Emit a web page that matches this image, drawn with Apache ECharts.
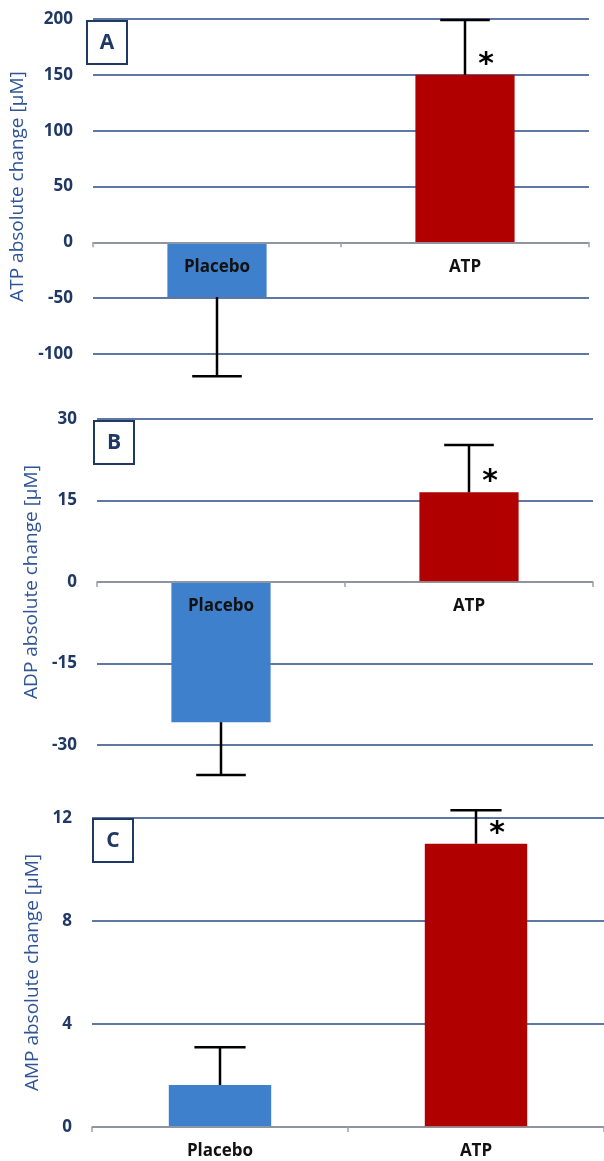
<!DOCTYPE html>
<html>
<head>
<meta charset="utf-8">
<style>
html,body{margin:0;padding:0;background:#fff;}
#chart{width:604px;height:1161px;}
</style>
<script src="https://cdn.jsdelivr.net/npm/echarts@6/dist/echarts.min.js"></script>
</head>
<body>
<div id="chart"></div>
<script>
// ---- data ----
const categories = ['Placebo', 'ATP'];
const barColors = ['#3e80cc', '#b00000'];
const significant = [0, 1];

const atpMeans = [-49, 150];
const atpErrEnds = [-120, 199];
const adpMeans = [-25.8, 16.5];
const adpErrEnds = [-35.5, 25.2];
const ampMeans = [1.63, 11.0];
const ampErrEnds = [3.1, 12.3];

const panelLetters = ['A', 'B', 'C'];
const yTitles = ['ATP absolute change [µM]', 'ADP absolute change [µM]', 'AMP absolute change [µM]'];
const yMins = [-100, -30, 0];
const yMaxs = [200, 30, 12];
const yIntervals = [50, 15, 4];

// ---- chart ----
const FONT = 'Open Sans';
const NAVY = '#1f3864';
const GRIDBLUE = '#2a4a85';

const grids = [
  {left: 93, right: 15, top: 19, height: 335},
  {left: 97, right: 11, top: 419, height: 326},
  {left: 92, right: -4, top: 818, height: 309}
];
const nameGaps = [63, 53, 48];

const meansList = [atpMeans, adpMeans, ampMeans];
const errList = [atpErrEnds, adpErrEnds, ampErrEnds];

function errRender(params, api) {
  const idx = api.value(0);
  const base = api.coord([idx, api.value(1)]);
  const end = api.coord([idx, api.value(2)]);
  const capHalf = api.size([1, 0])[0] * 0.1;
  const style = {stroke: '#000', lineWidth: 2.5};
  const children = [
    {type: 'line', shape: {x1: base[0], y1: base[1], x2: base[0], y2: end[1]}, style: style},
    {type: 'line', shape: {x1: base[0] - capHalf, y1: end[1], x2: base[0] + capHalf, y2: end[1]}, style: style}
  ];
  if (api.value(3)) {
    children.push({
      type: 'text',
      x: base[0] + 21, y: base[1] + 5,
      style: {text: '*', fill: '#000', font: 'bold 30px "DejaVu Sans"', align: 'center', verticalAlign: 'bottom'}
    });
  }
  return {type: 'group', children: children};
}

function labelRender(params, api) {
  const p = api.coord([api.value(0), 0]);
  return {
    type: 'text', x: p[0], y: p[1] + 16,
    style: {text: categories[api.value(0)], fill: '#111', font: 'bold 17px "Open Sans"', align: 'center', verticalAlign: 'top'}
  };
}

const xAxes = [], yAxes = [], series = [], graphics = [];
for (let i = 0; i < 3; i++) {
  xAxes.push({
    type: 'category', gridIndex: i, data: categories, z: 10,
    axisLine: {show: true, lineStyle: {color: '#a0a0a0', width: 1.5}},
    axisTick: {show: true, length: 5, lineStyle: {color: '#a0a0a0', width: 1.5}},
    axisLabel: {show: false}
  });
  yAxes.push({
    type: 'value', gridIndex: i, min: yMins[i], max: yMaxs[i], interval: yIntervals[i],
    name: yTitles[i], nameLocation: 'middle', nameRotate: 90, nameGap: nameGaps[i],
    nameTextStyle: {color: '#2f5597', fontFamily: FONT, fontSize: 19},
    axisLine: {show: false}, axisTick: {show: false},
    axisLabel: {color: NAVY, fontFamily: FONT, fontWeight: 'bold', fontSize: 17, margin: 20},
    splitLine: {show: true, lineStyle: {color: GRIDBLUE, width: 1.5}}
  });
  series.push({
    type: 'bar', xAxisIndex: i, yAxisIndex: i, barWidth: '40%',
    data: meansList[i].map((v, k) => ({value: v, itemStyle: {color: barColors[k]}}))
  });
  series.push({
    type: 'custom', xAxisIndex: i, yAxisIndex: i, z: 5,
    renderItem: errRender, clip: false,
    data: meansList[i].map((v, k) => [k, v, errList[i][k], significant[k]])
  });
  series.push({
    type: 'custom', xAxisIndex: i, yAxisIndex: i, z: 12,
    renderItem: labelRender, clip: false, silent: true,
    data: categories.map((c, k) => [k])
  });
}

const boxes = [
  {x: 86, y: 20},
  {x: 93, y: 420},
  {x: 92, y: 818}
];
boxes.forEach((b, i) => {
  graphics.push({
    type: 'rect', left: b.x, top: b.y, z: 20,
    shape: {width: 40, height: 43},
    style: {fill: '#fff', stroke: NAVY, lineWidth: 2}
  });
  graphics.push({
    type: 'text', x: b.x + 21, y: b.y + 23, z: 21,
    style: {text: panelLetters[i], fill: NAVY, font: 'bold 21px "Open Sans"', align: 'center', verticalAlign: 'middle'}
  });
});

const chart = echarts.init(document.getElementById('chart'), null, {renderer: 'canvas'});
chart.setOption({
  animation: false,
  backgroundColor: '#fff',
  grid: grids,
  xAxis: xAxes,
  yAxis: yAxes,
  series: series,
  graphic: graphics
});
</script>
</body>
</html>
